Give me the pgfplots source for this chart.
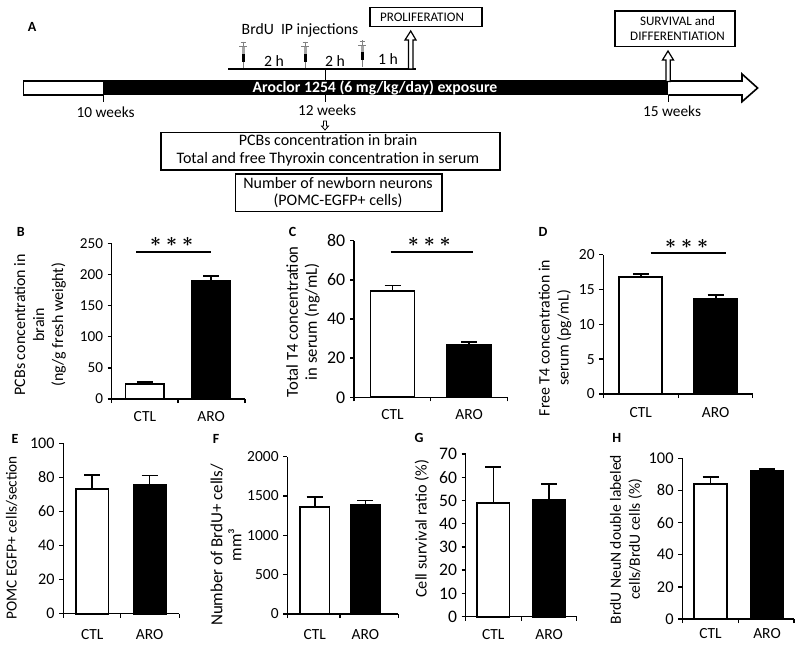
\documentclass[border=0pt]{standalone}
\usepackage{fontspec}
\setmainfont{Carlito}
\usepackage{pgfplots}
\pgfplotsset{compat=1.18}
\pgfplotsset{
  panel/.style n args={4}{
    scale only axis, clip=false, anchor=origin,
    at={({#1*0.75pt},{(644-#3)*0.75pt})},
    width={(#2-#1)*0.75pt}, height={(#3-#4)*0.75pt},
    xmin=0, xmax={#2-#1}, ymin=0,
    axis x line=bottom, axis y line=left,
    axis line style={-,line width=1.15pt},
    ybar, bar shift=0pt,
    major x tick style={draw=none},
    major tick length=3pt, minor tick length=3pt,
    tick align=outside, tick style={line width=1.1pt,black},
    xticklabels={CTL,ARO},
    /pgf/number format/assume math mode=true,
    /pgf/number format/1000 sep={},
    ylabel style={align=center},
  },
  fs/.style n args={3}{
    ylabel style={font=\fontsize{#1}{14.25}\selectfont},
    yticklabel style={font=\fontsize{#2}{14}\selectfont},
    xticklabel style={font=\fontsize{11.6}{14}\selectfont, yshift=#3},
  },
  ctl/.style={fill=white,draw=black,line width=1.3pt,
    error bars/.cd, y dir=plus, y explicit,
    error bar style={line width=1.2pt,black},
    error mark options={rotate=90,mark size=6pt,line width=1.2pt,black}},
  aro/.style={fill=black,draw=black,line width=1.3pt,
    error bars/.cd, y dir=plus, y explicit,
    error bar style={line width=1.2pt,black},
    error mark options={rotate=90,mark size=6pt,line width=1.2pt,black}},
  ylabat/.style 2 args={ylabel style={at={(axis description cs:#1,#2)},anchor=center}},
}
\newcommand\pl[1]{\node[font=\fontsize{10.5}{12}\selectfont\bfseries] at #1;}
\newcommand\stars{{\boldmath$\ast\ast\ast$}}
\begin{document}
\begin{tikzpicture}
\path[use as bounding box] (0,0) rectangle (600pt,483pt);
% ---------- B
\begin{axis}[panel={111.7}{245}{399}{243.3}, fs={12}{11.4}{-3pt}, ymax=250, ytick={0,50,100,150,200,250},
  xtick={33.2,99.5}, minor xtick={0,66.3,133.3}, bar width=29pt,
  ylabel={PCBs concentration in\\brain\\(ng/g fresh weight)}, ylabat={-0.538}{0.477}]
\addplot[ctl] coordinates {(33.2,23.5) +- (0,3.5)};
\addplot[aro] coordinates {(99.5,190) +- (0,7.5)};
\end{axis}
% ---------- C
\begin{axis}[panel={354}{507.3}{397.3}{240.7}, fs={12.5}{13.4}{-2.25pt}, ymax=80, ytick={0,20,40,60,80},
  xtick={38.5,115.2}, minor xtick={0,76.7,153.3}, bar width=33pt,
  ylabel={Total T4 concentration\\in serum (ng/mL)}, ylabat={-0.333}{0.483}]
\addplot[ctl] coordinates {(38.5,54.3) +- (0,2.9)};
\addplot[aro] coordinates {(115.2,26.7) +- (0,1.7)};
\end{axis}
% ---------- D
\begin{axis}[panel={603.3}{752.7}{394}{254.7}, fs={11.9}{11.6}{-3.75pt}, ymax=20, ytick={0,5,10,15,20},
  xtick={37.5,112.4}, minor xtick={0,75,149.4}, bar width=32.25pt,
  ylabel={Free T4 concentration in\\serum (pg/mL)}, ylabat={-0.323}{0.402}]
\addplot[ctl] coordinates {(37.5,16.75) +- (0,0.45)};
\addplot[aro] coordinates {(112.4,13.7) +- (0,0.5)};
\end{axis}
% ---------- E
\begin{axis}[panel={63.3}{179.3}{613.7}{443.3}, fs={11.5}{12.1}{-5.25pt}, ymax=100, ytick={0,20,40,60,80,100},
  xtick={28.9,86.4}, minor xtick={0,57.4,116}, bar width=24.4pt,
  ylabel={POMC EGFP+ cells/section}, ylabat={-0.445}{0.446}]
\addplot[ctl] coordinates {(28.9,73) +- (0,8.4)};
\addplot[aro] coordinates {(86.4,75.5) +- (0,5.7)};
\end{axis}
% ---------- F
\begin{axis}[panel={287.3}{398.3}{614}{456.7}, fs={12.7}{11.6}{-5.25pt}, ymax=2000, ytick={0,500,1000,1500,2000},
  xtick={27.4,78}, minor xtick={0,52.7,111}, bar width=22pt,
  ylabel={Number of BrdU+ cells/\\mm³}, ylabat={-0.552}{0.439}]
\addplot[ctl] coordinates {(27.4,1356) +- (0,135)};
\addplot[aro] coordinates {(78,1385) +- (0,60)};
\end{axis}
% ---------- G
\begin{axis}[panel={465.7}{576.7}{616.7}{454}, fs={12.2}{13.2}{-3pt}, ymax=70, ytick={0,10,20,30,40,50,60,70},
  xtick={27.6,83.5}, minor xtick={0,56,111}, bar width=24.4pt,
  ylabel={Cell survival ratio (\%)}, ylabat={-0.396}{0.540}]
\addplot[ctl] coordinates {(27.6,48.8) +- (0,15.7)};
\addplot[aro] coordinates {(83.5,50.2) +- (0,7)};
\end{axis}
% ---------- H
\begin{axis}[panel={682.3}{794}{619}{458.3}, fs={11.7}{12.3}{-0.75pt}, ymax=100, ytick={0,20,40,60,80,100},
  xtick={28.2,84.7}, minor xtick={0,56,111.7}, bar width=24.4pt,
  ylabel={BrdU NeuN double labeled\\cells/BrdU cells (\%)}, ylabat={-0.504}{0.495}]
\addplot[ctl] coordinates {(28.2,84) +- (0,4.2)};
\addplot[aro] coordinates {(84.7,92.3) +- (0,1.1)};
\end{axis}
% ---------- annotations, in pixels of the reference
\begin{scope}[yshift=483pt,x=0.75pt,y=-0.75pt]
\pl{(32,27) {A}}
\pl{(20.7,231.7) {B}}
\pl{(292.7,232) {C}}
\pl{(543,232) {D}}
\pl{(15,439) {E}}
\pl{(216,439) {F}}
\pl{(419,438) {G}}
\pl{(616.7,438) {H}}
% significance
\draw[line width=1.4pt] (136,252.3)--(211,252.3);
\draw[line width=1.4pt] (390.7,252.3)--(473.3,252.3);
\draw[line width=1.4pt] (650.7,252.7)--(725.7,252.7);
\node[font=\fontsize{15}{17}\selectfont] at (171.7,241.7) {\stars};
\node[font=\fontsize{15}{17}\selectfont] at (429.3,241.7) {\stars};
\node[font=\fontsize{15}{17}\selectfont] at (686.7,244) {\stars};
% timeline
\draw[line width=0.8pt] (103.6,95)--(103.6,102);
\draw[line width=0.6pt] (325,69)--(325,102);
\draw[line width=0.6pt] (668.4,95)--(668.4,102);
\draw[line width=1.2pt,fill=white] (23.5,81) rectangle (103.6,95);
\fill[black] (103.6,80.5) rectangle (668.4,95.5);
\draw[line width=1.2pt,fill=white,line join=miter] (668.4,81)--(742,81)--(742,74)--(757.6,88)--(742,101.7)--(742,95)--(668.4,95);
\node[white,font=\fontsize{11.8}{13}\selectfont\bfseries] at (375,88) {Aroclor 1254 (6 mg/kg/day) exposure};
\node[font=\fontsize{11.5}{13}\selectfont] at (105.6,112) {10 weeks};
\node[font=\fontsize{11.5}{13}\selectfont] at (327,110) {12 weeks};
\node[font=\fontsize{11.5}{13}\selectfont] at (672,111.7) {15 weeks};
% injections
\draw[line width=1.6pt] (228,69.3)--(416,69.3);
\node[font=\fontsize{11.8}{13}\selectfont] at (300,30.7) {BrdU\ \ IP injections};
\node[font=\fontsize{11.8}{13}\selectfont] at (274,60.7) {2 h};
\node[font=\fontsize{11.8}{13}\selectfont] at (335,60.7) {2 h};
\node[font=\fontsize{11.8}{13}\selectfont] at (388,59) {1 h};
\foreach \sx/\sy in {243/41.7,305/41.7,362/40.5}{
  \draw[gray,line width=0.4pt] (\sx,\sy+26.3)--(\sx,\sy+20);
  \fill[gray!70] (\sx-1.5,\sy+5) rectangle (\sx+1.5,\sy+12);
  \fill[black] (\sx-1.5,\sy+12) rectangle (\sx+1.5,\sy+20);
  \draw[gray,line width=0.6pt] (\sx,\sy)--(\sx,\sy+5);
  \draw[gray,line width=0.6pt] (\sx-2.5,\sy+0.5)--(\sx+2.5,\sy+0.5);
  \draw[gray,line width=0.6pt] (\sx-4,\sy+5)--(\sx+4,\sy+5);
}
% double arrows
\draw[line width=0.9pt,fill=white,line join=miter] (408.5,69)--(408.5,40)--(405,40)--(410.7,31)--(416,40)--(412.9,40)--(412.9,69)--cycle;
\draw[line width=0.9pt,fill=white,line join=miter] (666,81.5)--(666,60)--(662.5,60)--(668,51)--(673.5,60)--(670.2,60)--(670.2,81.5)--cycle;
% boxes
\draw[line width=1.1pt] (370,7.3) rectangle (482,26.7);
\node[font=\fontsize{9.8}{11}\selectfont] at (422,17.7) {PROLIFERATION};
\draw[line width=1.1pt] (615,11) rectangle (735,46.7);
\node[font=\fontsize{9.8}{11}\selectfont] at (677.5,21) {SURVIVAL and};
\node[font=\fontsize{9.8}{11}\selectfont] at (677.5,36.7) {DIFFERENTIATION};
\draw[line width=0.6pt,fill=white] (323.5,121)--(326.5,121)--(326.5,126)--(328.5,126)--(325,130)--(321.5,126)--(323.5,126)--cycle;
\draw[line width=1.1pt] (161,132.3) rectangle (500,170);
\node[font=\fontsize{12}{13}\selectfont] at (328,140.5) {PCBs concentration in brain};
\node[font=\fontsize{12}{13}\selectfont] at (328,159.3) {Total and free Thyroxin concentration in serum};
\draw[line width=1.1pt] (235.7,174) rectangle (442,211.7);
\node[font=\fontsize{12}{13}\selectfont] at (338,183) {Number of newborn neurons};
\node[font=\fontsize{12}{13}\selectfont] at (338,201) {(POMC-EGFP+ cells)};
\end{scope}
\end{tikzpicture}
\end{document}
